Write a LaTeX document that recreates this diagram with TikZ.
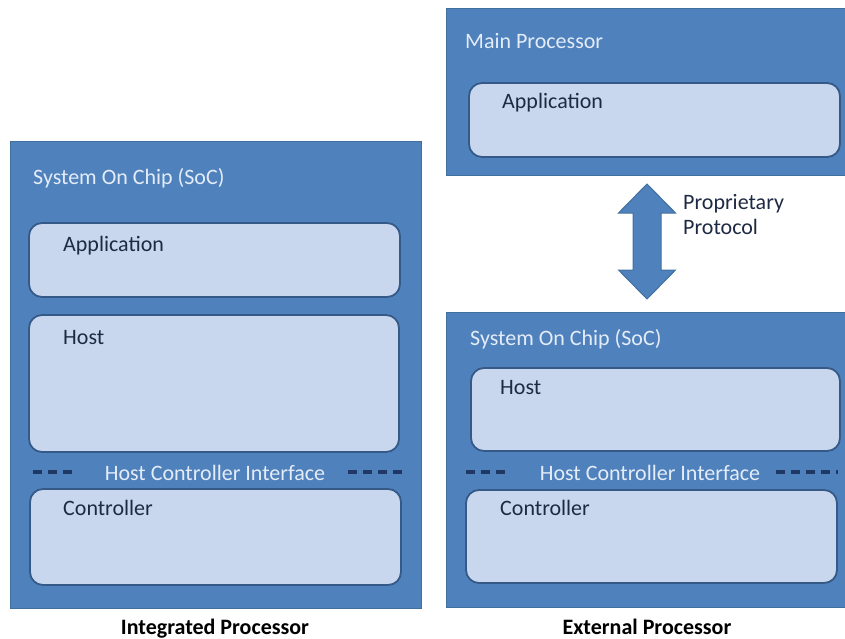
\documentclass[tikz,border=0pt]{standalone}
\usepackage{fontspec}
\setmainfont{Carlito}
\definecolor{outerblue}{HTML}{4F81BD}
\definecolor{outerline}{HTML}{41709F}
\definecolor{innerfill}{HTML}{C8D7EE}
\definecolor{innerline}{HTML}{365A88}
\definecolor{navy}{HTML}{1F3864}
\definecolor{darktext}{HTML}{1E2A44}
\definecolor{lighttext}{HTML}{E4ECF7}
\tikzset{
  outerbox/.style={fill=outerblue, draw=outerline, line width=1pt},
  innerbox/.style={fill=innerfill, draw=innerline, line width=1.8pt, rounded corners=13pt},
  lbl/.style={inner sep=0pt, anchor=base west, font=\fontsize{22}{26}\selectfont},
  innerlbl/.style={lbl, text=darktext},
  outerlbl/.style={lbl, text=lighttext},
  hcilbl/.style={inner sep=0pt, anchor=base, font=\fontsize{22}{26}\selectfont, text=lighttext},
  caption/.style={inner sep=0pt, anchor=base, font=\fontsize{22}{26}\selectfont\bfseries, text=black},
  hcidash/.style={draw=navy, line width=3.6pt, dash pattern=on 9pt off 6pt},
  bigarrow/.style={fill=outerblue, draw=outerline, line width=1pt}
}
\begin{document}
\begin{tikzpicture}[x=1pt,y=-1pt]
\useasboundingbox (0,0) rectangle (845,639);
% ---------- left: integrated processor ----------
\draw[outerbox] (10,142) rectangle (421,608);
\node[outerlbl] (lsoc) at (33,185) {System On Chip (SoC)};
\draw[innerbox] (29,223) rectangle (400,297);
\node[innerlbl] (lapp) at (63,251) {Application};
\draw[innerbox] (29,315) rectangle (399,452);
\node[innerlbl] (lhost) at (63,344) {Host};
\node[hcilbl] (lhci) at (215,480) {Host Controller Interface};
\coordinate (lda) at (33,472); \coordinate (ldb) at (76,472);
\coordinate (ldc) at (348,472); \coordinate (ldd) at (403,472);
\draw[hcidash] (lda) -- (ldb);
\draw[hcidash] (ldc) -- (ldd);
\draw[innerbox] (30,489) rectangle (401,585);
\node[innerlbl] (lctrl) at (63,515) {Controller};
\node[caption] (lcap) at (215,634) {Integrated Processor};
% ---------- right top: main processor ----------
\draw[outerbox] (446,9) rectangle (848,176);
\node[outerlbl] (mp) at (465,49) {Main Processor};
\draw[innerbox] (469,83) rectangle (840,157);
\node[innerlbl] (mapp) at (502,109) {Application};
% ---------- arrow ----------
\draw[bigarrow] (647,184) -- (675.5,213) -- (661,213) -- (661,270) -- (675.5,270)
  -- (647,299) -- (618.5,270) -- (633,270) -- (633,213) -- (618.5,213) -- cycle;
\node[lbl, text=darktext, align=left, font=\fontsize{22}{25}\selectfont] (proto) at (683,234) {Proprietary\\Protocol};
% ---------- right bottom: external SoC ----------
\draw[outerbox] (446,312) rectangle (848,607);
\node[outerlbl] (rsoc) at (470,345) {System On Chip (SoC)};
\draw[innerbox] (471,368) rectangle (840,451);
\node[innerlbl] (rhost) at (500,394) {Host};
\node[hcilbl] (rhci) at (650,480) {Host Controller Interface};
\coordinate (rda) at (466,472); \coordinate (rdb) at (509,472);
\coordinate (rdc) at (776,472); \coordinate (rdd) at (838,472);
\draw[hcidash] (rda) -- (rdb);
\draw[hcidash] (rdc) -- (rdd);
\draw[innerbox] (466,490) rectangle (837,583);
\node[innerlbl] (rctrl) at (500,515) {Controller};
\node[caption] (rcap) at (647,634) {External Processor};
\end{tikzpicture}
\end{document}
